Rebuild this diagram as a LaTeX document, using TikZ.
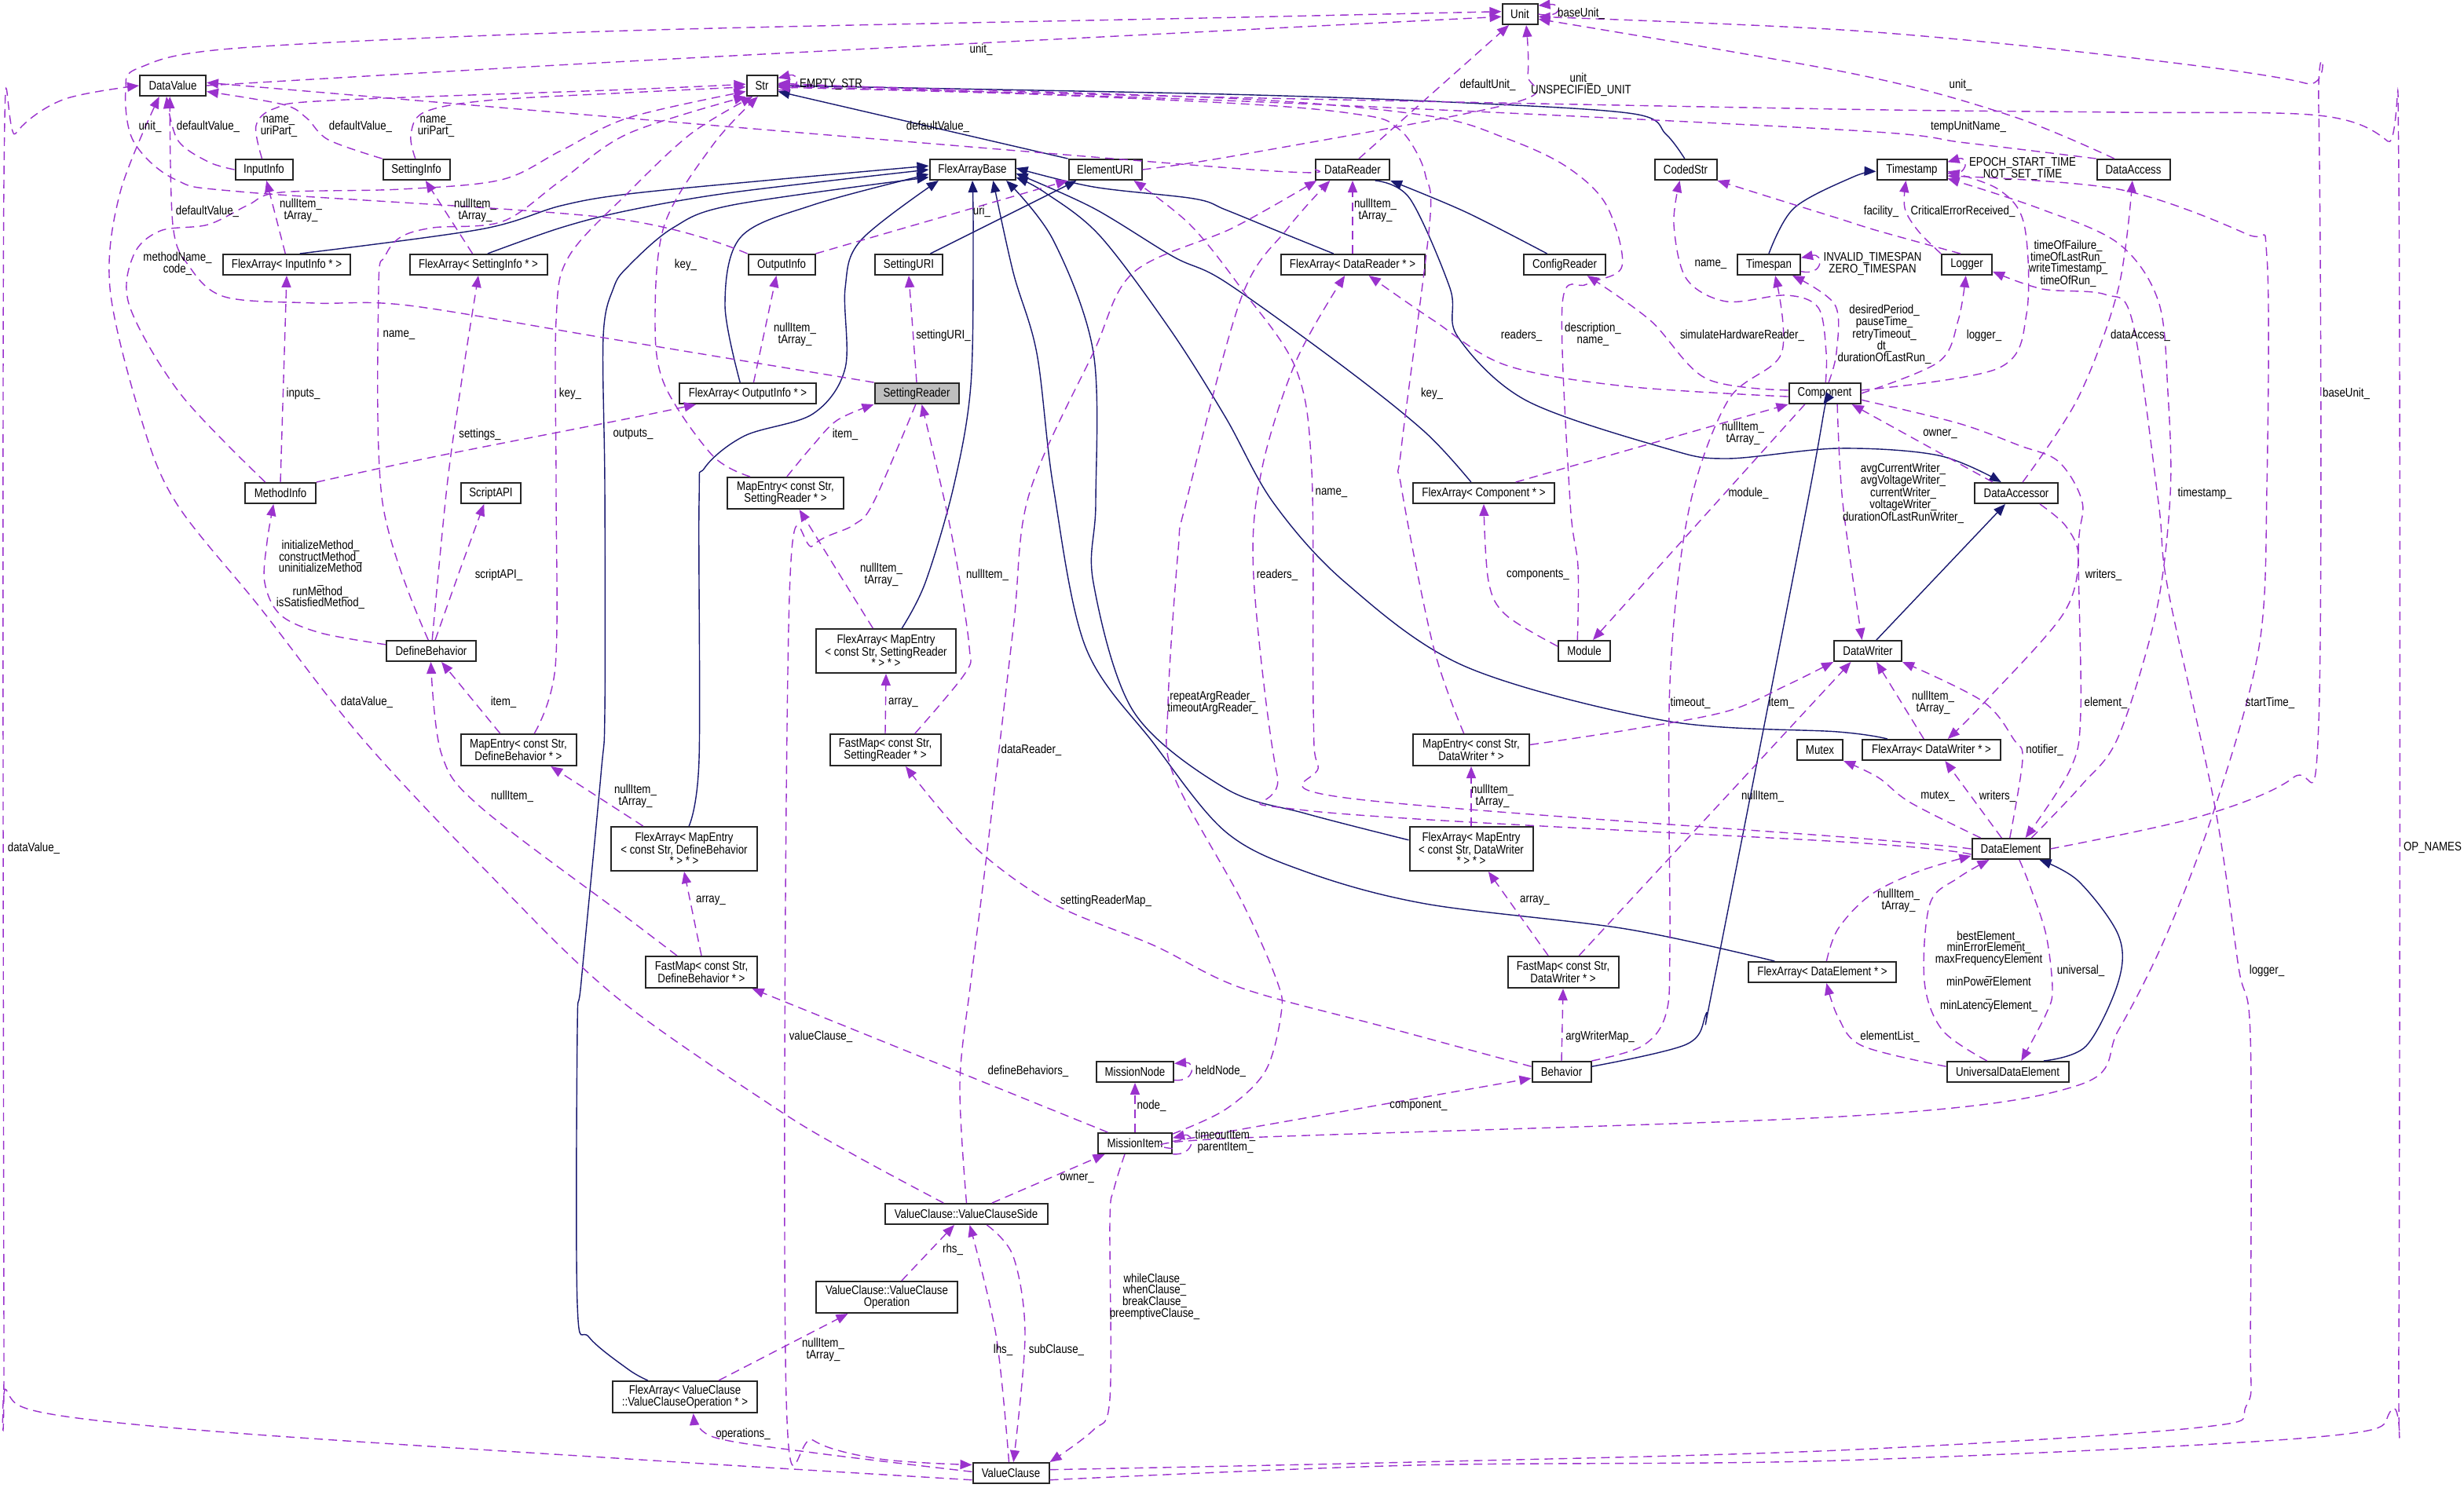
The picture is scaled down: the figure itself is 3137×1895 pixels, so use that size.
\documentclass[tikz,border=0pt]{standalone}
\usepackage{fontspec}
\setmainfont[FakeStretch=0.84]{Liberation Sans}
\usetikzlibrary{arrows.meta}
\definecolor{depc}{HTML}{9A32CD}
\definecolor{inhc}{HTML}{191970}
\newcommand{\dxfont}{\fontsize{15.8}{14.7}\selectfont}
\tikzset{
 cls/.style={draw=black!85, line width=2pt, fill=white, inner sep=0pt, align=center, font=\dxfont, minimum height=26},
 lbl/.style={inner sep=0pt, align=center, font=\dxfont},
 depE/.style={draw=depc, line width=1.4pt, dash pattern=on 11pt off 7pt, -{Triangle[length=15pt,width=12pt]}},
 inhE/.style={draw=inhc, line width=1.4pt, -{Triangle[length=15pt,width=12pt]}},
}
\begin{document}
\begin{tikzpicture}[x=1pt,y=-1pt]
\useasboundingbox (0,0) rectangle (3137,1895);
\fill[white] (0,0) rectangle (3137,1895);
% ---------------- nodes
\node[cls,minimum width=45] (nUnit) at (1935,18) {Unit};
\node[cls,minimum width=84] (nDV) at (220,109) {DataValue};
\node[cls,minimum width=39] (nStr) at (970,109) {Str};
\node[cls,minimum width=73] (nII) at (336,216) {InputInfo};
\node[cls,minimum width=85] (nSI) at (530,216) {SettingInfo};
\node[cls,minimum width=109] (nFAB) at (1238,216) {FlexArrayBase};
\node[cls,minimum width=93] (nEURI) at (1407,216) {ElementURI};
\node[cls,minimum width=94] (nDR) at (1722,216) {DataReader};
\node[cls,minimum width=79] (nCS) at (2146,216) {CodedStr};
\node[cls,minimum width=89] (nTS) at (2434,216) {Timestamp};
\node[cls,minimum width=93] (nDA) at (2716,216) {DataAccess};
\node[cls,minimum width=162] (nFAII) at (365,337) {FlexArray< InputInfo * >};
\node[cls,minimum width=175] (nFASI) at (609,337) {FlexArray< SettingInfo * >};
\node[cls,minimum width=85] (nOI) at (995,337) {OutputInfo};
\node[cls,minimum width=86] (nSURI) at (1157,337) {SettingURI};
\node[cls,minimum width=183] (nFADR) at (1722,337) {FlexArray< DataReader * >};
\node[cls,minimum width=104] (nCR) at (1992,337) {ConfigReader};
\node[cls,minimum width=80] (nTSP) at (2252,337) {Timespan};
\node[cls,minimum width=64] (nLOG) at (2504,337) {Logger};
\node[cls,minimum width=174] (nFAOI) at (952,501) {FlexArray< OutputInfo * >};
\node[cls,fill=gray!50,minimum width=107] (nSR) at (1167,501) {SettingReader};
\node[cls,minimum width=91] (nCOMP) at (2323,501) {Component};
\node[cls,minimum width=90] (nMI) at (357,628) {MethodInfo};
\node[cls,minimum width=148,minimum height=40] (nMESR) at (1000,628) {MapEntry< const Str,\\SettingReader * >};
\node[cls,minimum width=76] (nSAPI) at (625,628) {ScriptAPI};
\node[cls,minimum width=180] (nFACOMP) at (1889,628) {FlexArray< Component * >};
\node[cls,minimum width=106] (nDACC) at (2567,628) {DataAccessor};
\node[cls,minimum width=114] (nDB) at (549,829) {DefineBehavior};
\node[cls,minimum width=66] (nMOD) at (2017,829) {Module};
\node[cls,minimum width=178,minimum height=56] (nFAMESR) at (1128,829) {FlexArray< MapEntry\\< const Str, SettingReader\\{}* > * >};
\node[cls,minimum width=86] (nDW) at (2378,829) {DataWriter};
\node[cls,minimum width=147,minimum height=40] (nMEDB) at (660,955) {MapEntry< const Str,\\DefineBehavior * >};
\node[cls,minimum width=148,minimum height=40] (nMEDW) at (1873,955) {MapEntry< const Str,\\DataWriter * >};
\node[cls,minimum width=58] (nMUTEX) at (2317,955) {Mutex};
\node[cls,minimum width=176] (nFADW) at (2459,955) {FlexArray< DataWriter * >};
\node[cls,minimum width=141,minimum height=40] (nFMSR) at (1127,955) {FastMap< const Str,\\SettingReader * >};
\node[cls,minimum width=186,minimum height=56] (nFAMEDB) at (871,1081) {FlexArray< MapEntry\\< const Str, DefineBehavior\\{}* > * >};
\node[cls,minimum width=157,minimum height=56] (nFAMEDW) at (1873,1081) {FlexArray< MapEntry\\< const Str, DataWriter\\{}* > * >};
\node[cls,minimum width=99] (nDE) at (2560,1081) {DataElement};
\node[cls,minimum width=142,minimum height=40] (nFMDB) at (893,1238) {FastMap< const Str,\\DefineBehavior * >};
\node[cls,minimum width=141,minimum height=40] (nFMDW) at (1990,1238) {FastMap< const Str,\\DataWriter * >};
\node[cls,minimum width=188] (nFADE) at (2320,1238) {FlexArray< DataElement * >};
\node[cls,minimum width=98] (nMN) at (1445,1365) {MissionNode};
\node[cls,minimum width=75] (nBEH) at (1988,1365) {Behavior};
\node[cls,minimum width=155] (nUDE) at (2556,1365) {UniversalDataElement};
\node[cls,minimum width=94] (nMITEM) at (1445,1456) {MissionItem};
\node[cls,minimum width=207] (nVCS) at (1230,1546) {ValueClause::ValueClauseSide};
\node[cls,minimum width=180,minimum height=40] (nVCO) at (1129,1652) {ValueClause::ValueClause\\Operation};
\node[cls,minimum width=184,minimum height=40] (nFAVCO) at (872,1779) {FlexArray< ValueClause\\::ValueClauseOperation * >};
\node[cls,minimum width=97] (nVC) at (1287,1876) {ValueClause};
% ---------------- inheritance (navy)
\draw[inhE] plot[smooth,tension=.55] coordinates {(nFAII.40) (612,292) (714,262) (800,247) (984,229) (nFAB.175)};
\draw[inhE] plot[smooth,tension=.55] coordinates {(nFASI.50) (714,290) (800,268) (933,245) (nFAB.180)};
\draw[inhE] plot[smooth,tension=.55] coordinates {(nFAOI.125) (923,388) (943,302) (1035,261) (nFAB.186)};
\draw[inhE] plot[smooth,tension=.55] coordinates {(nFAMEDB.78) (890,967) (890,640) (897,596) (948,555) (1035,527) (1076,469) (1076,367) (1096,306) (nFAB.198)};
\draw[inhE] plot[smooth,tension=.55] coordinates {(nFAMESR.55) (1178,742) (1214,620) (1236,490) (1239,300) (nFAB.270)};
\draw[inhE] plot[smooth,tension=.55] coordinates {(nFAVCO.156) (800,1744) (750,1703) (735,1661) (735,1312) (740,1250) (765,987) (770,906) (770,620) (768,429) (781,367) (800,339) (857,290) (933,261) (nFAB.190)};
\draw[inhE] plot[smooth,tension=.55] coordinates {(nFADR.150) (1626,294) (1560,267) (1520,253) (1392,238) (nFAB.2)};
\draw[inhE] plot[smooth,tension=.55] coordinates {(nFACOMP.139) (1815,551) (1713,469) (1560,359) (1494,327) (1392,265) (nFAB.-5)};
\draw[inhE] plot[smooth,tension=.55] coordinates {(nFADW.166) (2340,932) (2121,918) (1866,849) (1713,742) (1621,640) (1560,531) (1490,420) (1400,300) (1330,245) (nFAB.-10)};
\draw[inhE] plot[smooth,tension=.55] coordinates {(nFAMEDW.172) (1662,1036) (1560,1004) (1443,906) (1392,742) (1395,640) (1392,449) (1341,306) (nFAB.-18)};
\draw[inhE] plot[smooth,tension=.55] coordinates {(nFADE.167) (2070,1183) (1815,1151) (1662,1110) (1560,1059) (1469,947) (1382,824) (1341,620) (1320,450) (1290,347) (nFAB.-28)};
\draw[inhE] (nSURI.27) -- (nEURI.201);
\draw[inhE] (nEURI.north west) -- (nStr.-20);
\draw[inhE] plot[smooth,tension=.55] coordinates {(nCS.95) (2121,171) (2080,145) (1866,131) (1560,120) (nStr.0)};
\draw[inhE] plot[smooth,tension=.55] coordinates {(nCR.148) (1866,270) (nDR.south east)};
\draw[inhE] plot[smooth,tension=.55] coordinates {(nDR.-26) (1795,253) (1846,367) (1856,429) (1943,510) (2121,571) (2198,584) (2340,571) (2468,580) (nDACC.144)};
\draw[inhE] (nDW.52) -- (nDACC.225);
\draw[inhE] plot[smooth,tension=.55] coordinates {(nTSP.north) (2284,265) (2360,225) (nTS.183)};
\draw[inhE] plot[smooth,tension=.55] coordinates {(nBEH.10) (2147,1330) (2172,1291) (2182,1250) (2305,620) (nCOMP.-97)};
\draw[inhE] plot[smooth,tension=.55] coordinates {(nUDE.17) (2656,1332) (2697,1250) (2697,1191) (2646,1122) (nDE.-21)};
% ---------------- usage (purple dashed)
\draw[depE] plot[smooth,tension=.55] coordinates {(nDV.east) (800,78) (1580,38) (nUnit.188)};
\draw[depE] plot[smooth,tension=.55] coordinates {(nOI.north west) (780,278) (316,245) (224,229) (170,180) (160,115) (178,86) (306,61) (800,39) (1580,22) (nUnit.172)};
\draw[depE] (nDR.60) -- (nUnit.225);
\draw[depE] plot[smooth,tension=.55] coordinates {(nEURI.east) (1580,197) (1927,131) (1945,95) (nUnit.300)};
\draw[depE] (nUnit.0) .. controls (1990,24) and (1990,4) .. (nUnit.25);
\draw[depE] plot[smooth,tension=.55] coordinates {(nDA.150) (2559,147) (2360,94) (nUnit.-15)};
\draw[depE] plot[smooth,tension=.55] coordinates {(nDE.east) (2800,1040) (2920,990) (2952,920) (2952,140) (2935,106) (2700,72) (2360,39) (nUnit.-8)};
\draw[depE] (nStr.-15) .. controls (1020,118) and (1020,92) .. (nStr.25);
\draw[depE] plot[smooth,tension=.55] coordinates {(nII.100) (326,160) (350,138) (420,128) (800,114) (nStr.175)};
\draw[depE] plot[smooth,tension=.55] coordinates {(nSI.95) (523,172) (540,143) (620,128) (800,118) (nStr.185)};
\draw[depE] plot[smooth,tension=.55] coordinates {(nMI.144) (230,502) (165,390) (170,325) (204,294) (265,286) (316,261) (357,245) (510,241) (638,229) (714,192) (800,150) (nStr.200)};
\draw[depE] plot[smooth,tension=.55] coordinates {(nDB.105) (487,640) (482,367) (490,327) (510,302) (551,290) (640,282) (714,230) (800,170) (nStr.south west)};
\draw[depE] plot[smooth,tension=.55] coordinates {(nMEDB.46) (707,849) (708,620) (708,408) (724,327) (800,245) (880,170) (nStr.230)};
\draw[depE] plot[smooth,tension=.55] coordinates {(nMESR.155) (907,580) (846,490) (834,408) (846,286) (908,184) (nStr.250)};
\draw[depE] plot[smooth,tension=.55] coordinates {(nVC.-10) (1800,1866) (2340,1860) (2950,1830) (3045,1795) (3054,1700) (3054,230) (3040,180) (2952,147) (2697,143) (2340,139) (1560,124) (nStr.-3)};
\draw[depE] plot[smooth,tension=.55] coordinates {(nDA.north west) (2503,182) (2340,165) (1560,128) (nStr.-6)};
\draw[depE] plot[smooth,tension=.55] coordinates {(nMOD.122) (2009,722) (1999,640) (1989,388) (2020,362) (2065,339) (2045,261) (1994,212) (1917,176) (1815,147) (1560,125) (nStr.4)};
\draw[depE] plot[smooth,tension=.55] coordinates {(nMEDW.114) (1825,824) (1784,620) (1784,571) (1820,286) (1815,224) (1800,188) (1779,163) (1738,147) (1560,131) (nStr.8)};
\draw[depE] plot[smooth,tension=.55] coordinates {(nII.west) (265,206) (226,178) (nDV.240)};
\draw[depE] plot[smooth,tension=.55] coordinates {(nSI.north west) (418,178) (390,150) (360,133) (nDV.-10)};
\draw[depE] plot[smooth,tension=.55] coordinates {(nSR.north west) (780,432) (520,389) (400,386) (286,378) (240,338) (220,286) (nDV.255)};
\draw[depE] plot[smooth,tension=.55] coordinates {(nVCS.154) (1086,1470) (984,1409) (780,1266) (612,1102) (459,938) (332,775) (224,640) (179,531) (140,367) (153,245) (nDV.219)};
\draw[depE] plot[smooth,tension=.55] coordinates {(nVC.190) (800,1858) (300,1825) (60,1800) (8,1770) (5,1700) (5,230) (20,170) (80,127) (nDV.west)};
\draw[depE] plot[smooth,tension=.55] coordinates {(nDR.west) (1580,215) (780,149) (nDV.5)};
\draw[depE] (nFAII.97) -- (nII.283);
\draw[depE] (nFASI.118) -- (nSI.310);
\draw[depE] (nFAOI.62) -- (nOI.245);
\draw[depE] (nMI.north) -- (nFAII.south);
\draw[depE] plot[smooth,tension=.55] coordinates {(nMI.north east) (561,580) (800,533) (nFAOI.192)};
\draw[depE] plot[smooth,tension=.55] coordinates {(nDB.85) (569,620) (587,490) (nFASI.south)};
\draw[depE] plot[smooth,tension=.55] coordinates {(nDB.172) (408,806) (357,783) (337,742) (340,690) (nMI.238)};
\draw[depE] plot[smooth,tension=.55] coordinates {(nDB.70) (587,722) (nSAPI.238)};
\draw[depE] (nMEDB.138) -- (nDB.313);
\draw[depE] (nFAMEDB.151) -- (nMEDB.333);
\draw[depE] (nFMDB.north) -- (nFAMEDB.south);
\draw[depE] plot[smooth,tension=.55] coordinates {(nFMDB.146) (800,1170) (612,1028) (562,960) (nDB.268)};
\draw[depE] (nMITEM.158) -- (nFMDB.342);
\draw[depE] (nFAMESR.120) -- (nMESR.310);
\draw[depE] plot[smooth,tension=.55] coordinates {(nMESR.85) (1035,567) (1066,535) (nSR.south west)};
\draw[depE] (nFMSR.north) -- (nFAMESR.south);
\draw[depE] plot[smooth,tension=.55] coordinates {(nFMSR.29) (1229,857) (1234,824) (1219,722) (1203,640) (nSR.295)};
\draw[depE] (nSR.north) -- (nSURI.south);
\draw[depE] plot[smooth,tension=.55] coordinates {(nSR.265) (1112,640) (1086,669) (1035,695) (1005,760) (1001,1780) (1035,1834) (1120,1858) (nVC.168)};
\draw[depE] (nOI.north east) -- (nEURI.south west);
\draw[depE] plot[smooth,tension=.55] coordinates {(nDE.180) (2360,1067) (1713,1016) (1678,975) (1672,900) (1670,600) (1650,470) (1580,367) (1515,286) (nEURI.339)};
\draw[depE] plot[smooth,tension=.55] coordinates {(nDE.188) (2360,1073) (1662,1032) (1626,987) (1596,734) (1606,600) (1650,460) (nFADR.235)};
\draw[depE] (nFADR.north) -- (nDR.south);
\draw[depE] plot[smooth,tension=.55] coordinates {(nVCS.88) (1222,1380) (1236,1250) (1256,1090) (1290,800) (1310,630) (1392,449) (1443,347) (1570,290) (nDR.197)};
\draw[depE] plot[smooth,tension=.55] coordinates {(nMITEM.14) (1560,1413) (1611,1364) (1631,1291) (1626,1250) (1580,1146) (1494,987) (1487,897) (1500,700) (1510,640) (1580,380) (1640,290) (nDR.206)};
\draw[depE] plot[smooth,tension=.55] coordinates {(nBEH.north east) (2091,1332) (2121,1291) (2126,1200) (2126,870) (2150,650) (2200,510) (2268,450) (nTSP.300)};
\draw[depE] (nBEH.north) -- (nFMDW.south);
\draw[depE] plot[smooth,tension=.55] coordinates {(nBEH.170) (1764,1308) (1580,1258) (1469,1204) (1341,1151) (1239,1077) (nFMSR.321)};
\draw[depE] (nMITEM.3) -- (nBEH.192);
\draw[depE] plot[smooth,tension=.55] coordinates {(nMITEM.-8) (1560,1450) (2360,1421) (2646,1382) (2697,1312) (2758,1191) (2820,1028) (2876,824) (2886,620) (2886,327) (2860,298) (2697,241) (nTS.-10)};
\draw[depE] plot[smooth,tension=.55] coordinates {(nDE.28) (2650,1000) (2697,938) (2745,780) (2763,630) (2760,500) (2748,384) (2697,310) (2595,265) (nTS.-14)};
\draw[depE] plot[smooth,tension=.55] coordinates {(nVC.5) (1800,1862) (2340,1847) (2799,1818) (2860,1790) (2865,1700) (2865,1320) (2850,1232) (2820,1028) (2760,750) (2748,640) (2715,410) (2680,375) (2600,368) (nLOG.-15)};
\draw[depE] plot[smooth,tension=.55] coordinates {(nCOMP.85) (2325,449) (2315,392) (2274,376) (2198,384) (2147,355) (2131,286) (nCS.242)};
\draw[depE] plot[smooth,tension=.55] coordinates {(nCOMP.185) (2070,492) (1917,465) (1825,408) (nFADR.326)};
\draw[depE] plot[smooth,tension=.55] coordinates {(nCOMP.175) (2172,482) (2101,408) (nCR.334)};
\draw[depE] plot[smooth,tension=.55] coordinates {(nLOG.120) (2391,294) (2340,278) (2250,250) (nCS.south east)};
\draw[depE] plot[smooth,tension=.55] coordinates {(nLOG.north west) (2442,294) (2425,265) (nTS.242)};
\draw[depE] plot[smooth,tension=.55] coordinates {(nCOMP.east) (2468,461) (2493,408) (nLOG.265)};
\draw[depE] plot[smooth,tension=.55] coordinates {(nCOMP.5) (2544,469) (2580,400) (2577,286) (2544,241) (nTS.-3)};
\draw[depE] plot[smooth,tension=.55] coordinates {(nCOMP.70) (2338,449) (2336,388) (nTSP.-25)};
\draw[depE] (nTSP.-12) .. controls (2322,352) and (2322,322) .. (nTSP.12);
\draw[depE] (nTS.-6) .. controls (2507,226) and (2507,198) .. (nTS.12);
\draw[depE] plot[smooth,tension=.55] coordinates {(nDACC.60) (2646,506) (2697,367) (nDA.265)};
\draw[depE] (nDACC.155) -- (nCOMP.-22);
\draw[depE] plot[smooth,tension=.55] coordinates {(nDACC.-25) (2630,670) (2646,710) (2626,783) (2524,897) (nFADW.34)};
\draw[depE] plot[smooth,tension=.55] coordinates {(nCOMP.-41) (2346,640) (nDW.118)};
\draw[depE] plot[smooth,tension=.55] coordinates {(nCOMP.-10) (2493,539) (2570,567) (2621,588) (2651,640) (2646,702) (2649,906) (2636,979) (nDE.37)};
\draw[depE] (nCOMP.209) -- (nMOD.52);
\draw[depE] (nFACOMP.19) -- (nCOMP.south west);
\draw[depE] plot[smooth,tension=.55] coordinates {(nMOD.170) (1917,783) (1895,740) (nFACOMP.270)};
\draw[depE] plot[smooth,tension=.55] coordinates {(nMEDW.5) (2070,930) (2198,906) (2274,873) (nDW.south west)};
\draw[depE] (nFMDW.46) -- (nDW.213);
\draw[depE] (nFAMEDW.north) -- (nMEDW.south);
\draw[depE] (nFMDW.132) -- (nFAMEDW.307);
\draw[depE] (nFADW.125) -- (nDW.308);
\draw[depE] (nDE.130) -- (nFADW.321);
\draw[depE] plot[smooth,tension=.55] coordinates {(nDE.160) (2432,1022) (2391,990) (nMUTEX.south east)};
\draw[depE] plot[smooth,tension=.55] coordinates {(nDE.95) (2575,967) (2564,942) (2524,893) (nDW.south east)};
\draw[depE] plot[smooth,tension=.55] coordinates {(nFADE.69) (2340,1183) (2381,1140) (2442,1110) (nDE.190)};
\draw[depE] plot[smooth,tension=.55] coordinates {(nDE.-52) (2585,1130) (2605,1191) (2613,1260) (2605,1291) (nUDE.39)};
\draw[depE] plot[smooth,tension=.55] coordinates {(nUDE.152) (2473,1312) (2450,1250) (2457,1151) (2493,1118) (nDE.207)};
\draw[depE] plot[smooth,tension=.55] coordinates {(nUDE.175) (2371,1332) (2340,1295) (nFADE.-69)};
\draw[depE] (nFAVCO.26) -- (nVCO.203);
\draw[depE] plot[smooth,tension=.55] coordinates {(nVC.178) (1035,1850) (908,1830) (nFAVCO.297)};
\draw[depE] (nVCO.48) -- (nVCS.223);
\draw[depE] plot[smooth,tension=.55] coordinates {(nVC.100) (1268,1700) (nVCS.288)};
\draw[depE] plot[smooth,tension=.55] coordinates {(nVCS.332) (1290,1600) (1305,1700) (nVC.77)};
\draw[depE] (nVCS.23) -- (nMITEM.200);
\draw[depE] plot[smooth,tension=.55] coordinates {(nMITEM.227) (1418,1515) (1413,1556) (1413,1781) (1392,1821) (nVC.north east)};
\draw[depE] (nMITEM.north) -- (nMN.south);
\draw[depE] (nMN.-12) .. controls (1522,1378) and (1522,1352) .. (nMN.12);
\draw[depE] (nMITEM.-16) .. controls (1522,1472) and (1522,1442) .. (nMITEM.8);
% ---------------- labels
\node[lbl] (l01) at (191,161) {unit\_};
\node[lbl] (l02) at (265,161) {defaultValue\_};
\node[lbl] (l03) at (355,161) {name\_\\uriPart\_};
\node[lbl] (l04) at (459,161) {defaultValue\_};
\node[lbl] (l05) at (555,161) {name\_\\uriPart\_};
\node[lbl] (l06) at (383,268) {nullItem\_\\tArray\_};
\node[lbl] (l07) at (605,268) {nullItem\_\\tArray\_};
\node[lbl] (l08) at (264,269) {defaultValue\_};
\node[lbl] (l09) at (226,336) {methodName\_\\code\_};
\node[lbl] (l10) at (508,427) {name\_};
\node[lbl] (l11) at (386,501) {inputs\_};
\node[lbl] (l12) at (726,501) {key\_};
\node[lbl] (l13) at (611,553) {settings\_};
\node[lbl] (l14) at (806,553) {outputs\_};
\node[lbl] (l15) at (1249,63) {unit\_};
\node[lbl] (l16) at (1058,108) {EMPTY\_STR};
\node[lbl] (l17) at (1194,161) {defaultValue\_};
\node[lbl] (l18) at (1250,269) {uri\_};
\node[lbl] (l19) at (873,337) {key\_};
\node[lbl] (l20) at (1012,426) {nullItem\_\\tArray\_};
\node[lbl] (l21) at (1201,427) {settingURI\_};
\node[lbl] (l22) at (1076,553) {item\_};
\node[lbl] (l23) at (1894,108) {defaultUnit\_};
\node[lbl] (l24) at (2013,108) {unit\_\\UNSPECIFIED\_UNIT};
\node[lbl] (l25) at (2013,17) {baseUnit\_};
\node[lbl] (l26) at (1751,268) {nullItem\_\\tArray\_};
\node[lbl] (l27) at (2178,337) {name\_};
\node[lbl] (l28) at (2384,336) {INVALID\_TIMESPAN\\ZERO\_TIMESPAN};
\node[lbl] (l29) at (1937,427) {readers\_};
\node[lbl] (l30) at (2028,426) {description\_\\name\_};
\node[lbl] (l31) at (2218,427) {simulateHardwareReader\_};
\node[lbl] (l32) at (1823,501) {key\_};
\node[lbl] (l33) at (2219,552) {nullItem\_\\tArray\_};
\node[lbl] (l34) at (1695,628) {name\_};
\node[lbl] (l35) at (2226,628) {module\_};
\node[lbl] (l36) at (2399,426) {desiredPeriod\_\\pauseTime\_\\retryTimeout\_\\dt\_\\durationOfLastRun\_};
\node[lbl] (l37) at (2496,108) {unit\_};
\node[lbl] (l38) at (2506,161) {tempUnitName\_};
\node[lbl] (l39) at (2575,215) {EPOCH\_START\_TIME\\NOT\_SET\_TIME};
\node[lbl] (l40) at (2395,269) {facility\_};
\node[lbl] (l41) at (2499,269) {CriticalErrorReceived\_};
\node[lbl] (l42) at (2633,336) {timeOfFailure\_\\timeOfLastRun\_\\writeTimestamp\_\\timeOfRun\_};
\node[lbl] (l43) at (2526,427) {logger\_};
\node[lbl] (l44) at (2725,427) {dataAccess\_};
\node[lbl] (l45) at (2987,501) {baseUnit\_};
\node[lbl] (l46) at (2470,553) {owner\_};
\node[lbl] (l47) at (2423,628) {avgCurrentWriter\_\\avgVoltageWriter\_\\currentWriter\_\\voltageWriter\_\\durationOfLastRunWriter\_};
\node[lbl] (l48) at (2807,628) {timestamp\_};
\node[lbl] (l49) at (408,732) {initializeMethod\_\\constructMethod\_\\uninitializeMethod\\\_\\runMethod\_\\isSatisfiedMethod\_};
\node[lbl] (l50) at (635,732) {scriptAPI\_};
\node[lbl] (l51) at (641,894) {item\_};
\node[lbl] (l52) at (467,894) {dataValue\_};
\node[lbl] (l53) at (652,1014) {nullItem\_};
\node[lbl] (l54) at (809,1014) {nullItem\_\\tArray\_};
\node[lbl] (l55) at (43,1080) {dataValue\_};
\node[lbl] (l56) at (1122,732) {nullItem\_\\tArray\_};
\node[lbl] (l57) at (1257,732) {nullItem\_};
\node[lbl] (l58) at (1150,895) {array\_};
\node[lbl] (l59) at (1313,955) {dataReader\_};
\node[lbl] (l60) at (1544,895) {repeatArgReader\_\\timeoutArgReader\_};
\node[lbl] (l61) at (905,1147) {array\_};
\node[lbl] (l62) at (1408,1147) {settingReaderMap\_};
\node[lbl] (l63) at (1626,732) {readers\_};
\node[lbl] (l64) at (1958,732) {components\_};
\node[lbl] (l65) at (2152,895) {timeout\_};
\node[lbl] (l66) at (2268,895) {item\_};
\node[lbl] (l67) at (1900,1014) {nullItem\_\\tArray\_};
\node[lbl] (l68) at (2244,1014) {nullItem\_};
\node[lbl] (l69) at (1954,1147) {array\_};
\node[lbl] (l70) at (2678,732) {writers\_};
\node[lbl] (l71) at (2461,895) {nullItem\_\\tArray\_};
\node[lbl] (l72) at (2681,895) {element\_};
\node[lbl] (l73) at (2890,895) {startTime\_};
\node[lbl] (l74) at (2603,955) {notifier\_};
\node[lbl] (l75) at (2467,1014) {mutex\_};
\node[lbl] (l76) at (2543,1014) {writers\_};
\node[lbl] (l77) at (3097,1080) {OP\_NAMES};
\node[lbl] (l78) at (2417,1147) {nullItem\_\\tArray\_};
\node[lbl] (l79) at (2532,1237) {bestElement\_\\minErrorElement\_\\maxFrequencyElement\\\_\\minPowerElement\\\_\\minLatencyElement\_};
\node[lbl] (l80) at (2649,1236) {universal\_};
\node[lbl] (l81) at (2886,1236) {logger\_};
\node[lbl] (l82) at (2406,1320) {elementList\_};
\node[lbl] (l83) at (2037,1320) {argWriterMap\_};
\node[lbl] (l84) at (1045,1320) {valueClause\_};
\node[lbl] (l85) at (1309,1364) {defineBehaviors\_};
\node[lbl] (l86) at (1554,1364) {heldNode\_};
\node[lbl] (l87) at (1466,1408) {node\_};
\node[lbl] (l88) at (1560,1454) {timeoutItem\_\\parentItem\_};
\node[lbl] (l89) at (1806,1408) {component\_};
\node[lbl] (l90) at (1371,1501) {owner\_};
\node[lbl] (l91) at (1213,1591) {rhs\_};
\node[lbl] (l92) at (1470,1651) {whileClause\_\\whenClause\_\\breakClause\_\\preemptiveClause\_};
\node[lbl] (l93) at (1048,1719) {nullItem\_\\tArray\_};
\node[lbl] (l94) at (1277,1719) {lhs\_};
\node[lbl] (l95) at (1345,1719) {subClause\_};
\node[lbl] (l96) at (946,1826) {operations\_};
\end{tikzpicture}
\end{document}
